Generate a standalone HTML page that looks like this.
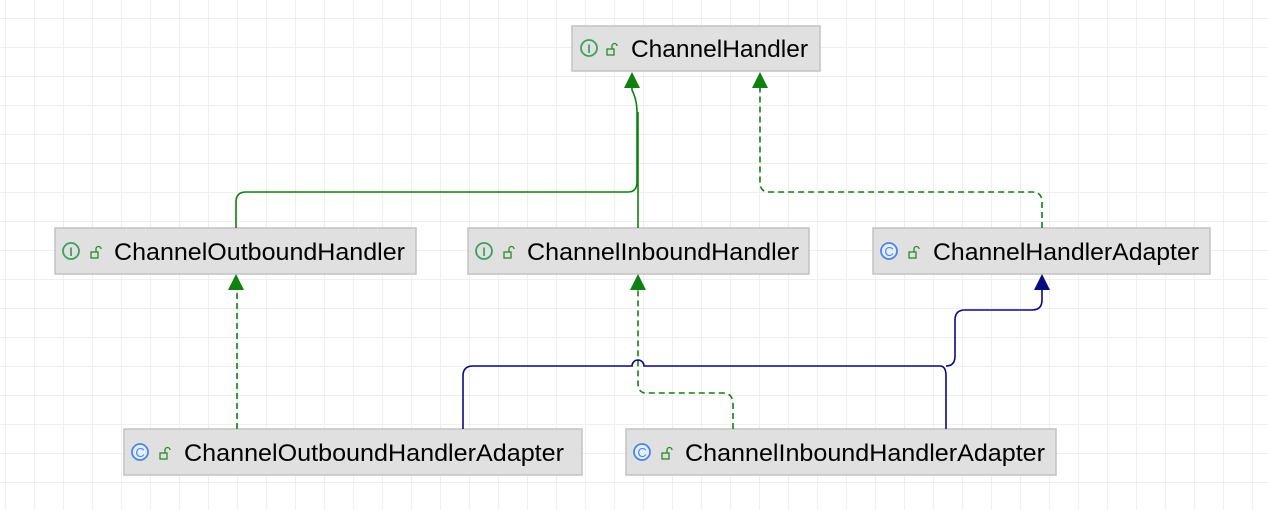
<!DOCTYPE html>
<html><head><meta charset="utf-8"><style>
html,body{margin:0;padding:0;background:#fff}
body{width:1268px;height:510px;overflow:hidden;position:relative;
background-image:linear-gradient(#efefef 1px,transparent 1px),linear-gradient(90deg,#efefef 1px,transparent 1px);
background-size:29px 29px;background-position:5px 18px}
svg{position:absolute;left:0;top:0}
text{font-family:"Liberation Sans",sans-serif;font-size:24px;fill:#000}
</style></head><body>
<svg width="1268" height="510" viewBox="0 0 1268 510">
<defs>
<g id="ii"><circle cx="0" cy="0" r="8" fill="none" stroke="#3ca060" stroke-width="1.8"/><text x="0" y="5" text-anchor="middle" style="font-size:12px;fill:#3ca060;font-weight:bold">I</text></g>
<g id="ci"><circle cx="0" cy="0" r="8" fill="#e4eeff" stroke="#4a86e8" stroke-width="1.8"/><text x="0" y="5" text-anchor="middle" style="font-size:13px;fill:#4a86e8">C</text></g>
<g id="lk"><rect x="-4" y="-1" width="7" height="6" fill="none" stroke="#2a8a2a" stroke-width="1.3"/><path d="M1,-1 v-3 a2.5,2.5 0 0 1 5,0" fill="none" stroke="#2a8a2a" stroke-width="1.3"/></g>
</defs>
<g fill="#e0e0e0" stroke="#c2c2c2" stroke-width="1.5">
<rect x="572" y="26" width="248" height="45"/>
<rect x="55" y="228" width="361" height="46"/>
<rect x="468" y="228" width="341" height="46"/>
<rect x="873" y="228" width="337" height="46"/>
<rect x="124" y="429" width="458" height="46"/>
<rect x="626" y="429" width="430" height="46"/>
</g>
<use href="#ii" x="589" y="48"/><use href="#lk" x="611" y="50"/><text x="631" y="57" textLength="177" lengthAdjust="spacingAndGlyphs">ChannelHandler</text>
<use href="#ii" x="71" y="251"/><use href="#lk" x="95" y="253"/><text x="114" y="260" textLength="291" lengthAdjust="spacingAndGlyphs">ChannelOutboundHandler</text>
<use href="#ii" x="484" y="251"/><use href="#lk" x="508" y="253"/><text x="527" y="260" textLength="272" lengthAdjust="spacingAndGlyphs">ChannelInboundHandler</text>
<use href="#ci" x="889" y="251"/><use href="#lk" x="913" y="253"/><text x="933" y="260" textLength="266" lengthAdjust="spacingAndGlyphs">ChannelHandlerAdapter</text>
<use href="#ci" x="140" y="452"/><use href="#lk" x="164" y="454"/><text x="184" y="461" textLength="380" lengthAdjust="spacingAndGlyphs">ChannelOutboundHandlerAdapter</text>
<use href="#ci" x="642" y="452"/><use href="#lk" x="666" y="454"/><text x="685" y="461" textLength="360" lengthAdjust="spacingAndGlyphs">ChannelInboundHandlerAdapter</text>
<g fill="none" stroke="#108010" stroke-width="1.6">
<path d="M236,228 V202 Q236,192 246,192 H628 Q637,192 637,182 V112 Q637,100 632,90 V86"/>
<path d="M638,228 V112"/>
<path d="M1042,228 V202 Q1042,192 1032,192 H769 Q760,192 760,182 V86" stroke-dasharray="6,4"/>
<path d="M237,429 V288" stroke-dasharray="6,4"/>
<path d="M733,429 V405 Q733,393 723,393 H646 Q638,393 638,383 V288" stroke-dasharray="6,4"/>
</g>
<g fill="none" stroke="#0a0a80" stroke-width="1.6">
<path d="M463,429 V376 Q463,366 473,366 H632 A6,6 0 0 1 644,366 H940 Q946,366 946,376 V429"/>
<path d="M946,366 Q955,366 955,356 V320 Q955,310 965,310 H1032 Q1042,310 1042,300 V288"/>
</g>
<g fill="#108010">
<path d="M632,72 L624,88 L640,88 Z"/>
<path d="M760,72 L752,88 L768,88 Z"/>
<path d="M236,274 L228,290 L244,290 Z"/>
<path d="M638,274 L630,290 L646,290 Z"/>
</g>
<path d="M1042,274 L1034,290 L1050,290 Z" fill="#0a0a80"/>
</svg>
</body></html>
